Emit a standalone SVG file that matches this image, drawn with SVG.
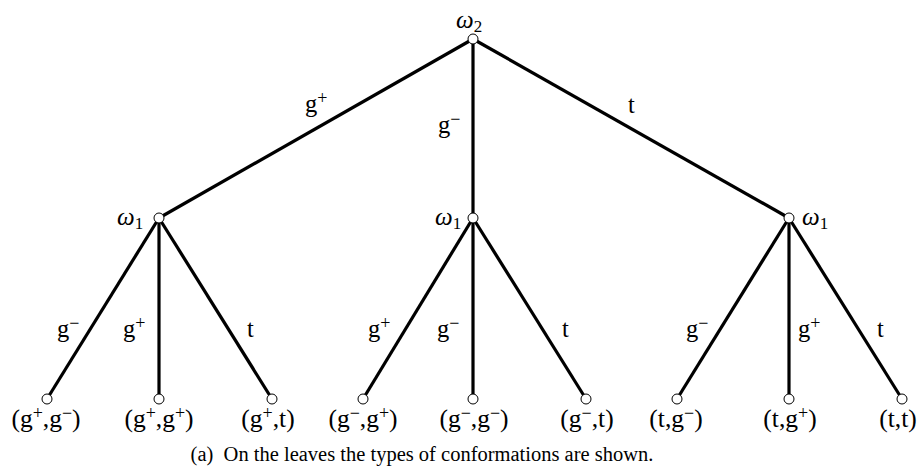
<svg xmlns="http://www.w3.org/2000/svg" width="921" height="473" viewBox="0 0 921 473">
<style>
  .edge { stroke: #000; stroke-width: 3.2; stroke-linecap: butt; fill: none; }
  .node { fill: #fff; stroke: #000; stroke-width: 1; }
  .lbl { font-family: "Liberation Serif", "Times New Roman", serif; font-size: 24.5px; fill: #000; }
  .leaf { font-family: "Liberation Serif", "Times New Roman", serif; font-size: 25.5px; fill: #000; text-anchor: middle; }
  .om { font-family: "Liberation Serif", "Times New Roman", serif; font-size: 25px; font-style: italic; fill: #000; }
  .sub { font-style: normal; font-size: 17px; }
  .sup { font-size: 18px; }
  .cap { font-family: "Liberation Serif", "Times New Roman", serif; font-size: 20.5px; fill: #000; }
</style>
<rect width="921" height="473" fill="#fff"/>
<g id="connectors">
  <line class="edge" x1="473" y1="39" x2="159" y2="218"/>
  <line class="edge" x1="473" y1="39" x2="473" y2="218"/>
  <line class="edge" x1="473" y1="39" x2="789" y2="218"/>
  <line class="edge" x1="159" y1="218" x2="47" y2="399"/>
  <line class="edge" x1="159" y1="218" x2="159" y2="399"/>
  <line class="edge" x1="159" y1="218" x2="272" y2="399"/>
  <line class="edge" x1="473" y1="218" x2="363" y2="399"/>
  <line class="edge" x1="473" y1="218" x2="473" y2="399"/>
  <line class="edge" x1="473" y1="218" x2="586" y2="399"/>
  <line class="edge" x1="789" y1="218" x2="677" y2="399"/>
  <line class="edge" x1="789" y1="218" x2="789" y2="399"/>
  <line class="edge" x1="789" y1="218" x2="902" y2="399"/>
  <text class="lbl" x="305" y="112">g<tspan class="sup" dy="-8">+</tspan></text>
  <text class="lbl" x="438" y="133">g<tspan class="sup" dy="-8">−</tspan></text>
  <text class="lbl" x="628" y="113">t</text>
  <text class="lbl" x="57" y="337">g<tspan class="sup" dy="-8">−</tspan></text>
  <text class="lbl" x="123" y="337">g<tspan class="sup" dy="-8">+</tspan></text>
  <text class="lbl" x="247" y="337">t</text>
  <text class="lbl" x="368" y="337">g<tspan class="sup" dy="-8">+</tspan></text>
  <text class="lbl" x="437" y="337">g<tspan class="sup" dy="-8">−</tspan></text>
  <text class="lbl" x="562" y="337">t</text>
  <text class="lbl" x="686" y="337">g<tspan class="sup" dy="-8">−</tspan></text>
  <text class="lbl" x="798" y="337">g<tspan class="sup" dy="-8">+</tspan></text>
  <text class="lbl" x="877" y="337">t</text>
</g>
<g id="root">
  <circle class="node" cx="473" cy="39" r="5"/>
  <text class="om" x="456" y="28">ω<tspan class="sub" dy="4">2</tspan></text>
</g>
<g id="n-left">
  <circle class="node" cx="159" cy="218" r="5"/>
  <text class="om" x="117" y="225">ω<tspan class="sub" dy="4">1</tspan></text>
</g>
<g id="n-mid">
  <circle class="node" cx="473" cy="218" r="5"/>
  <text class="om" x="435" y="225">ω<tspan class="sub" dy="4">1</tspan></text>
</g>
<g id="n-right">
  <circle class="node" cx="789" cy="218" r="5"/>
  <text class="om" x="802" y="225">ω<tspan class="sub" dy="4">1</tspan></text>
</g>
<g id="leaf-1"><circle class="node" cx="47" cy="399" r="5"/>
  <text class="leaf" x="46" y="427">(g<tspan class="sup" dy="-8">+</tspan><tspan dy="8">,g</tspan><tspan class="sup" dy="-8">−</tspan><tspan dy="8">)</tspan></text></g>
<g id="leaf-2"><circle class="node" cx="159" cy="399" r="5"/>
  <text class="leaf" x="159" y="427">(g<tspan class="sup" dy="-8">+</tspan><tspan dy="8">,g</tspan><tspan class="sup" dy="-8">+</tspan><tspan dy="8">)</tspan></text></g>
<g id="leaf-3"><circle class="node" cx="272" cy="399" r="5"/>
  <text class="leaf" x="268" y="427">(g<tspan class="sup" dy="-8">+</tspan><tspan dy="8">,t)</tspan></text></g>
<g id="leaf-4"><circle class="node" cx="363" cy="399" r="5"/>
  <text class="leaf" x="363" y="427">(g<tspan class="sup" dy="-8">−</tspan><tspan dy="8">,g</tspan><tspan class="sup" dy="-8">+</tspan><tspan dy="8">)</tspan></text></g>
<g id="leaf-5"><circle class="node" cx="473" cy="399" r="5"/>
  <text class="leaf" x="474" y="427">(g<tspan class="sup" dy="-8">−</tspan><tspan dy="8">,g</tspan><tspan class="sup" dy="-8">−</tspan><tspan dy="8">)</tspan></text></g>
<g id="leaf-6"><circle class="node" cx="586" cy="399" r="5"/>
  <text class="leaf" x="587" y="427">(g<tspan class="sup" dy="-8">−</tspan><tspan dy="8">,t)</tspan></text></g>
<g id="leaf-7"><circle class="node" cx="677" cy="399" r="5"/>
  <text class="leaf" x="676" y="427">(t,g<tspan class="sup" dy="-8">−</tspan><tspan dy="8">)</tspan></text></g>
<g id="leaf-8"><circle class="node" cx="789" cy="399" r="5"/>
  <text class="leaf" x="790" y="427">(t,g<tspan class="sup" dy="-8">+</tspan><tspan dy="8">)</tspan></text></g>
<g id="leaf-9"><circle class="node" cx="902" cy="399" r="5"/>
  <text class="leaf" x="898" y="427">(t,t)</text></g>
<text class="cap" x="422" y="461" text-anchor="middle" xml:space="preserve">(a)  On the leaves the types of conformations are shown.</text>
</svg>
